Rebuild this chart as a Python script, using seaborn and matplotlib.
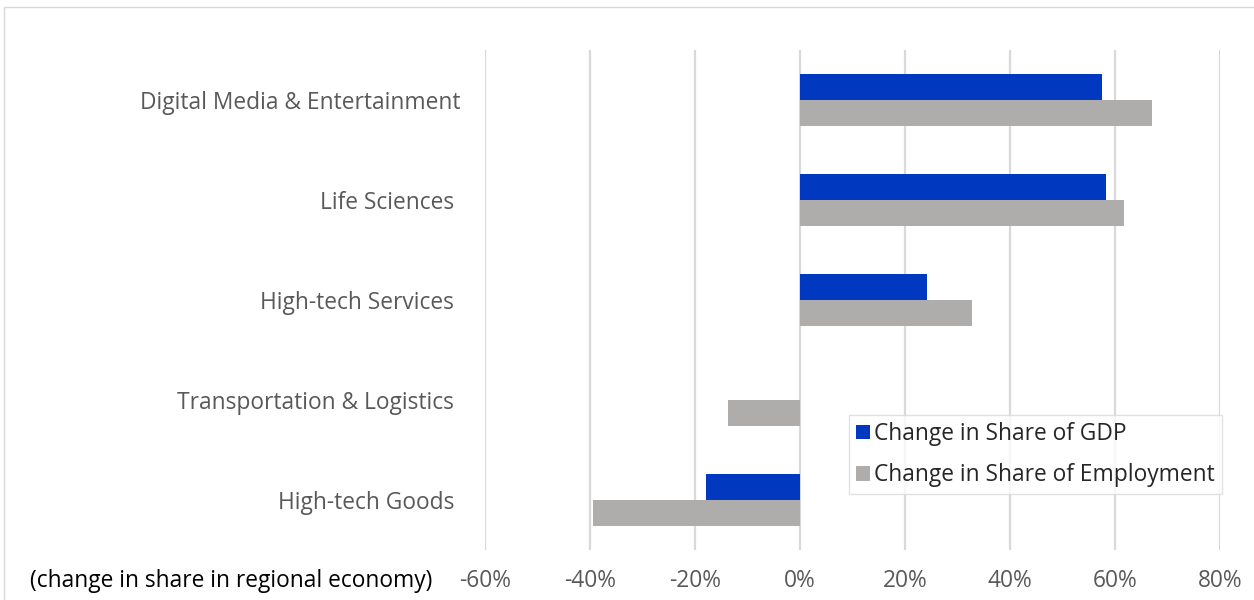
import matplotlib
matplotlib.use("Agg")
import matplotlib.pyplot as plt
import seaborn as sns
import pandas as pd
from matplotlib.patches import Rectangle, Patch
from matplotlib.ticker import FuncFormatter

categories = [
    "Digital Media & Entertainment",
    "Life Sciences ",
    "High-tech Services ",
    "Transportation & Logistics ",
    "High-tech Goods ",
]
series_names = ["Change in Share of GDP", "Change in Share of Employment"]
gdp_change = [57.5, 58.2, 24.2, 0.0, -17.9]
employment_change = [67.0, 61.7, 32.8, -13.7, -39.4]
x_ticks = [-60, -40, -20, 0, 20, 40, 60, 80]

colors = {series_names[0]: "#0038BF", series_names[1]: "#AFACAC"}

df = pd.DataFrame({
    "Industry": categories * 2,
    "Series": [series_names[0]] * len(categories) + [series_names[1]] * len(categories),
    "Change": gdp_change + employment_change,
})

sns.set_theme(style="white")
plt.rcParams["font.family"] = ["Open Sans", "DejaVu Sans"]

FS = 16.4

fig = plt.figure(figsize=(12.54, 6.0), dpi=100)
ax = fig.add_axes([485 / 1254, 50 / 600, (1220 - 485) / 1254, 500 / 600])

sns.barplot(
    data=df, x="Change", y="Industry", hue="Series", order=categories,
    hue_order=series_names, palette=colors, orient="h", width=0.52,
    saturation=1, legend=False, ax=ax, linewidth=0,
)

ax.set_xlim(-60, 80)
ax.set_ylim(4.5, -0.5)
ax.set_xticks(x_ticks)
ax.xaxis.set_major_formatter(FuncFormatter(lambda v, _: f"{v:.0f}%"))
ax.grid(axis="x", color="#D9D9D9", linewidth=1.6)
ax.set_axisbelow(True)
for s in ax.spines.values():
    s.set_visible(False)
ax.tick_params(axis="x", length=0, pad=14, labelsize=FS, labelcolor="#595959")
ax.tick_params(axis="y", length=0, pad=18, labelsize=FS, labelcolor="#595959")
ax.set_xlabel("")
ax.set_ylabel("")

fig.text(30 / 1254, 1 - 581 / 600, "(change in share in regional economy)",
         fontsize=FS, color="black", va="center", ha="left")

handles = [Patch(facecolor=colors[n], edgecolor="none", label=n) for n in series_names]
leg = ax.legend(
    handles=handles, loc="lower right", bbox_to_anchor=(1222 / 1254, 1 - 494 / 600),
    bbox_transform=fig.transFigure, fontsize=FS, frameon=True, fancybox=False,
    edgecolor="#D9D9D9", handlelength=0.62, handleheight=0.62, handletextpad=0.2,
    labelspacing=0.75, borderpad=0.3, borderaxespad=0,
)
leg.get_frame().set_linewidth(1.0)

fig.patches.append(Rectangle((4 / 1254, -0.1), 1.2, 1 - 7 / 600 + 0.1,
                             transform=fig.transFigure, fill=False,
                             edgecolor="#D9D9D9", linewidth=1.0))

fig.savefig("out.png", dpi=100, facecolor="white")
